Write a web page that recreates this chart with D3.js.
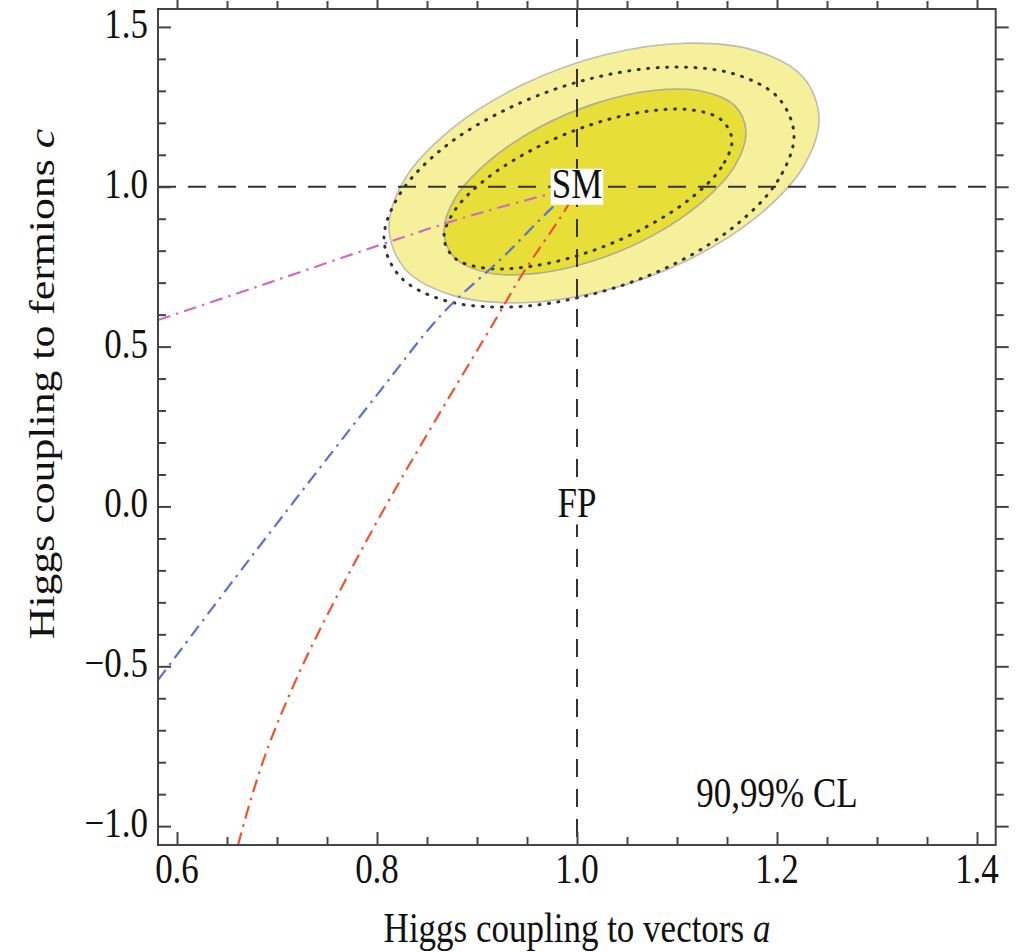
<!DOCTYPE html>
<html><head><meta charset="utf-8">
<script src="https://cdn.jsdelivr.net/npm/d3@7"></script>
<style>
body{margin:0;background:#fff}
text{font-family:"Liberation Serif","Times New Roman",serif;fill:#111}
</style>
</head><body>
<svg id="c" width="1017" height="952"></svg>
<script>
// ---- data ----
const xMajor = [0.6, 0.8, 1.0, 1.2, 1.4];
const xLabels = ["0.6", "0.8", "1.0", "1.2", "1.4"];
const xMinor = [0.65, 0.7, 0.75, 0.85, 0.9, 0.95, 1.05, 1.1, 1.15, 1.25, 1.3, 1.35];
const yMajor = [-1.0, -0.5, 0.0, 0.5, 1.0, 1.5];
const yLabels = ["\u22121.0", "\u22120.5", "0.0", "0.5", "1.0", "1.5"];
const yMinor = [-0.9, -0.8, -0.7, -0.6, -0.4, -0.3, -0.2, -0.1, 0.1, 0.2, 0.3, 0.4, 0.6, 0.7, 0.8, 0.9, 1.1, 1.2, 1.3, 1.4];

// 99% CL region (outer, light)
const outerCL = [[1.242,1.215],[1.226,1.061],[1.179,0.904],[1.109,0.768],[1.027,0.675],[0.945,0.637],[0.875,0.661],[0.828,0.743],
                 [0.812,0.871],[0.828,1.025],[0.875,1.182],[0.945,1.318],[1.027,1.412],[1.109,1.449],[1.179,1.425],[1.226,1.343]];
// 90% CL region (inner, dark)
const innerCL = [[1.169,1.171],[1.158,1.066],[1.125,0.952],[1.076,0.848],[1.018,0.770],[0.960,0.729],[0.911,0.731],[0.878,0.777],
                 [0.867,0.859],[0.878,0.964],[0.911,1.078],[0.960,1.182],[1.018,1.260],[1.076,1.301],[1.125,1.299],[1.158,1.253]];
// dotted contours
const outerDotted = [[1.217,1.162],[1.201,1.020],[1.157,0.875],[1.091,0.749],[1.012,0.661],[0.934,0.624],[0.867,0.645],[0.823,0.719],
                     [0.807,0.836],[0.823,0.978],[0.867,1.123],[0.934,1.249],[1.012,1.337],[1.091,1.374],[1.157,1.353],[1.201,1.279]];
const innerDotted = [[1.155,1.146],[1.144,1.059],[1.113,0.962],[1.066,0.869],[1.011,0.795],[0.956,0.752],[0.909,0.745],[0.878,0.776],
                     [0.867,0.840],[0.878,0.927],[0.909,1.024],[0.956,1.117],[1.011,1.191],[1.066,1.234],[1.113,1.241],[1.144,1.210]];

// model trajectories
const magentaLine = [[0.581,0.583],[0.693,0.701],[0.803,0.818],[0.893,0.909],[1.0,1.0]];
const blueLine = [[0.581,-0.543],[0.673,-0.163],[0.800,0.349],[0.866,0.605],[0.926,0.780],[0.976,0.937],[1.0,1.0]];
const redLine = [[0.661,-1.059],[0.676,-0.894],[0.694,-0.729],[0.728,-0.481],[0.768,-0.233],[0.811,0.014],[0.857,0.262],
                 [0.920,0.592],[0.946,0.730],[0.990,0.937],[1.0,1.0]];

const refX = 1.0, refY = 1.0;
const points = [{name:"SM", x:1.0, y:1.0}, {name:"FP", x:1.0, y:0.0}];
const clText = "90,99% CL", clPos = [1.2, -0.93];

// ---- drawing ----
const svg = d3.select("#c");
const L = 158, R = 995.7, T = 9, B = 845;
const x = d3.scaleLinear().domain([0.581, 1.4187]).range([L, R]);
const y = d3.scaleLinear().domain([-1.059, 1.556]).range([B, T]);
const FS = 35, VS = 1.18;

svg.append("clipPath").attr("id","pc").append("rect")
  .attr("x",L).attr("y",T).attr("width",R-L).attr("height",B-T);
const g = svg.append("g").attr("clip-path","url(#pc)");

const closed = d3.line().x(d=>x(d[0])).y(d=>y(d[1])).curve(d3.curveCatmullRomClosed.alpha(0.5));
const open = d3.line().x(d=>x(d[0])).y(d=>y(d[1])).curve(d3.curveCatmullRom.alpha(0.5));

g.append("path").attr("d", closed(outerCL)).attr("fill","#f7f09a").attr("stroke","#bdbdb4").attr("stroke-width",1.6);
g.append("path").attr("d", closed(innerCL)).attr("fill","#e7de38").attr("stroke","#adad96").attr("stroke-width",1.6);
[outerDotted, innerDotted].forEach(pts=>{
  g.append("path").attr("d", closed(pts)).attr("fill","none").attr("stroke","#333")
   .attr("stroke-width",3).attr("stroke-linecap","round").attr("stroke-dasharray","1 8.5");
});

[[magentaLine,"#d26ac4"],[blueLine,"#5a72d2"],[redLine,"#f0532e"]].forEach(([pts,col])=>{
  g.append("path").attr("d", open(pts)).attr("fill","none").attr("stroke",col)
   .attr("stroke-width",2.2).attr("stroke-dasharray","13 6 2.5 6");
});

// reference dashed lines
g.append("line").attr("x1",x(refX)).attr("x2",x(refX)).attr("y1",T).attr("y2",B)
  .attr("stroke","#333").attr("stroke-width",2).attr("stroke-dasharray","18 12");
g.append("line").attr("x1",L).attr("x2",R).attr("y1",y(refY)).attr("y2",y(refY))
  .attr("stroke","#333").attr("stroke-width",2).attr("stroke-dasharray","18 12");

// axes: ticks on all four sides pointing inward
function styleAxis(sel){ sel.select(".domain").remove(); sel.selectAll("line").attr("stroke","#444").attr("stroke-width",2); sel.selectAll("text").remove(); }
[[d3.axisBottom, B],[d3.axisTop, T]].forEach(([ax,pos])=>{
  const s = pos===B ? -1 : 1;
  svg.append("g").attr("transform",`translate(0,${pos})`).call(ax(x).tickValues(xMajor).tickSize(13*s)).call(styleAxis);
  svg.append("g").attr("transform",`translate(0,${pos})`).call(ax(x).tickValues(xMinor).tickSize(8*s)).call(styleAxis);
});
[[d3.axisLeft, L],[d3.axisRight, R]].forEach(([ax,pos])=>{
  const s = pos===L ? -1 : 1;
  svg.append("g").attr("transform",`translate(${pos},0)`).call(ax(y).tickValues(yMajor).tickSize(13*s)).call(styleAxis);
  svg.append("g").attr("transform",`translate(${pos},0)`).call(ax(y).tickValues(yMinor).tickSize(8*s)).call(styleAxis);
});
svg.append("rect").attr("x",L).attr("y",T).attr("width",R-L).attr("height",B-T)
  .attr("fill","none").attr("stroke","#444").attr("stroke-width",2);

// tick labels
svg.append("g").selectAll("text").data(xMajor).join("text")
  .attr("transform",d=>`translate(${x(d)},883) scale(1,${VS})`)
  .attr("text-anchor","middle").attr("font-size",FS).text((d,i)=>xLabels[i]);
svg.append("g").selectAll("text").data(yMajor).join("text")
  .attr("transform",d=>`translate(148,${y(d)+11}) scale(1,${VS})`)
  .attr("text-anchor","end").attr("font-size",FS).text((d,i)=>yLabels[i]);

// point labels
points.forEach(p=>{
  const t = svg.append("text").attr("transform",`translate(${x(p.x)},${y(p.y)+11}) scale(1,${VS})`)
    .attr("text-anchor","middle").attr("font-size",FS).text(p.name);
  const bb = t.node().getBBox();
  svg.insert("rect", function(){return t.node();})
    .attr("x",x(p.x)-bb.width/2-1).attr("y",y(p.y)-18).attr("width",bb.width+2).attr("height",36).attr("fill","#fff");
});

svg.append("text").attr("transform",`translate(${x(clPos[0])},807) scale(1,${VS})`)
  .attr("text-anchor","middle").attr("font-size",FS).text(clText);

// axis titles
const xt = svg.append("text").attr("transform",`translate(577,942) scale(1,${VS})`).attr("text-anchor","middle").attr("font-size",FS);
xt.append("tspan").text("Higgs coupling to vectors ");
xt.append("tspan").attr("font-style","italic").text("a");
const yt = svg.append("text").attr("transform",`translate(54,384) rotate(-90) scale(1.25,1)`).attr("text-anchor","middle").attr("font-size",FS);
yt.append("tspan").text("Higgs coupling to fermions ");
yt.append("tspan").attr("font-style","italic").text("c");
</script>
</body></html>
